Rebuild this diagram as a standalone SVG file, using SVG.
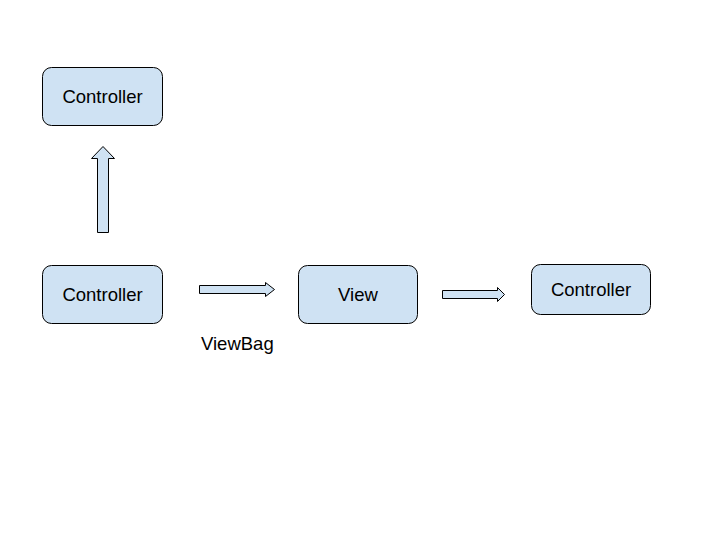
<svg xmlns="http://www.w3.org/2000/svg" width="720" height="540" viewBox="0 0 720 540">
<style>
.box{fill:#cfe2f3;stroke:#000;stroke-width:1}
.arr{fill:#cfe2f3;stroke:#000;stroke-width:1}
text{font-family:"Liberation Sans",Arial,sans-serif;font-size:18.5px;fill:#000}
.c{text-anchor:middle;dominant-baseline:central}
</style>
<rect width="720" height="540" fill="#fff"/>
<g id="controller-top"><rect class="box" x="42.5" y="67.5" width="120" height="58" rx="9"/><text class="c" x="102.5" y="96">Controller</text></g>
<g id="controller-left"><rect class="box" x="42.5" y="265.5" width="120" height="58" rx="9"/><text class="c" x="102.5" y="294">Controller</text></g>
<g id="view"><rect class="box" x="298.5" y="265.5" width="119" height="58" rx="9"/><text class="c" x="358" y="294">View</text></g>
<g id="controller-right"><rect class="box" x="531.5" y="264.5" width="119" height="50" rx="9"/><text class="c" x="591" y="289">Controller</text></g>
<g id="connectors">
<polygon class="arr" points="97.5,232.5 108.5,232.5 108.5,158.5 114.5,158.5 103,146.5 91.5,158.5 97.5,158.5"/>
<polygon class="arr" points="199.5,285.5 265.5,285.5 265.5,282.5 274.5,289.5 265.5,296.5 265.5,293.5 199.5,293.5"/>
<polygon class="arr" points="442.5,290.5 497.5,290.5 497.5,287.5 504.5,294.5 497.5,301.5 497.5,298.5 442.5,298.5"/>
</g>
<text x="201" y="350">ViewBag</text>
</svg>
